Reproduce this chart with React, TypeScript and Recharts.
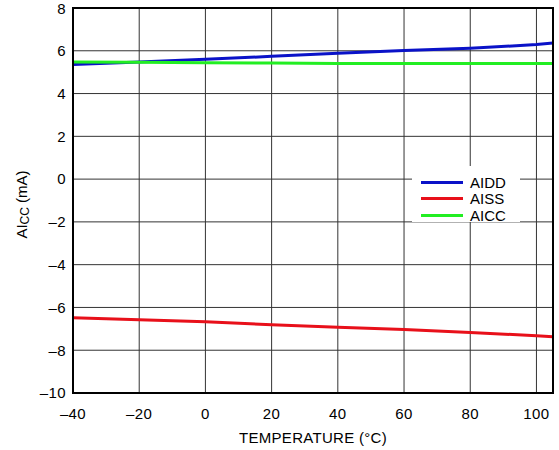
import React from "react";
import { LineChart, Line, XAxis, YAxis, CartesianGrid, Legend, Label } from "recharts";

const temperatures = [-40, -20, 0, 20, 40, 60, 80, 100, 105];
const aidd = [5.36, 5.48, 5.6, 5.74, 5.88, 6.01, 6.12, 6.29, 6.36];
const aiss = [-6.48, -6.58, -6.67, -6.81, -6.93, -7.03, -7.17, -7.32, -7.37];
const aicc = [5.48, 5.46, 5.44, 5.43, 5.4, 5.4, 5.4, 5.4, 5.4];
const xTicks = [-40, -20, 0, 20, 40, 60, 80, 100];
const yTicks = [-10, -8, -6, -4, -2, 0, 2, 4, 6, 8];

const series = [
  { key: "AIDD", color: "#0a12c8" },
  { key: "AISS", color: "#e8101a" },
  { key: "AICC", color: "#22ee22" },
];

const data = temperatures.map((t, i) => ({ t, AIDD: aidd[i], AISS: aiss[i], AICC: aicc[i] }));

const FONT = "'Liberation Sans', Arial, sans-serif";
const fmt = (v: number) => (v < 0 ? "\u2013" + Math.abs(v) : String(v));

const LegendContent = () => (
  <div style={{ background: "#fff", width: 108, height: 56, position: "relative", fontFamily: FONT, fontSize: 15 }}>
    {series.map((s, i) => (
      <div key={s.key} style={{ position: "absolute", left: 9, top: 8 + i * 16.5, display: "flex", alignItems: "center", height: 16 }}>
        <div style={{ width: 42, height: 3, background: s.color }} />
        <span style={{ marginLeft: 7, color: "#000" }}>{s.key}</span>
      </div>
    ))}
  </div>
);

const YLabel = (props: any) => {
  const vb = props.viewBox || {};
  const cy = vb.y + vb.height / 2 + 4;
  const cx = 21;
  return (
    <text x={cx} y={cy} transform={`rotate(-90 ${cx} ${cy})`} textAnchor="middle" dominantBaseline="central" fontFamily={FONT} fontSize={15} fill="#000">
      AI<tspan fontSize={12} dy={4}>CC</tspan><tspan dy={-4}> (mA)</tspan>
    </text>
  );
};

const tickStyle = { fill: "#000", fontFamily: FONT, fontSize: 15, letterSpacing: 0.4 };

export default function App() {
  return (
    <div style={{ position: "absolute", left: 0, top: 0, background: "#fff" }}>
      <LineChart width={559} height={450} data={data} margin={{ top: 8, right: 6, bottom: 27, left: 13 }}>
        <CartesianGrid stroke="#333" strokeWidth={1} vertical horizontal />
        <XAxis
          dataKey="t"
          type="number"
          domain={[-40, 105]}
          ticks={xTicks}
          tickFormatter={fmt}
          allowDataOverflow
          height={30}
          tickLine={false}
          tickSize={0}
          tickMargin={15}
          axisLine={{ stroke: "#000", strokeWidth: 2 }}
          tick={tickStyle}
        >
          <Label value="TEMPERATURE (°C)" position="bottom" offset={9} style={{ fill: "#000", fontFamily: FONT, fontSize: 15, letterSpacing: 0.3 }} />
        </XAxis>
        <YAxis
          type="number"
          domain={[-10, 8]}
          ticks={yTicks}
          tickFormatter={fmt}
          width={60}
          tickLine={false}
          tickSize={0}
          tickMargin={7}
          axisLine={{ stroke: "#000", strokeWidth: 2 }}
          tick={tickStyle}
        >
          <Label content={<YLabel />} />
        </YAxis>
        <Legend
          layout="vertical"
          align="center"
          verticalAlign="middle"
          content={<LegendContent />}
          wrapperStyle={{ left: 412, top: 166, width: 108, height: 56 }}
        />
        {series.map((s) => (
          <Line key={s.key} dataKey={s.key} stroke={s.color} strokeWidth={3} dot={false} isAnimationActive={false} type="linear" />
        ))}
      </LineChart>
      <svg width={559} height={450} style={{ position: "absolute", left: 0, top: 0, pointerEvents: "none" }}>
        <rect x={73} y={8} width={480} height={385} fill="none" stroke="#000" strokeWidth={2} />
      </svg>
    </div>
  );
}
